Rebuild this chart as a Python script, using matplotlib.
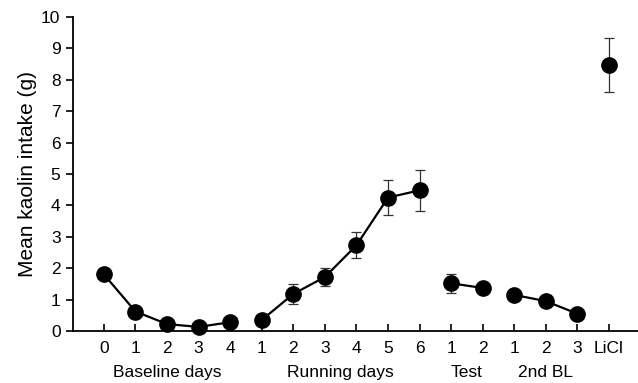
import matplotlib
matplotlib.use("Agg")
import matplotlib.pyplot as plt

plt.rcParams['font.family'] = ['Liberation Sans', 'DejaVu Sans']

groups = ["Baseline days", "Running days", "Test", "2nd BL", ""]
tick_labels_by_group = [["0", "1", "2", "3", "4"],
                        ["1", "2", "3", "4", "5", "6"],
                        ["1", "2"],
                        ["1", "2", "3"],
                        ["LiCl"]]
baseline_vals = [1.80, 0.62, 0.22, 0.13, 0.28]
baseline_err = [0.10, 0.08, 0.06, 0.05, 0.07]
running_vals = [0.35, 1.18, 1.72, 2.73, 4.25, 4.48]
running_err = [0.10, 0.32, 0.30, 0.42, 0.57, 0.66]
test_vals = [1.52, 1.37]
test_err = [0.30, 0.12]
bl2_vals = [1.15, 0.95, 0.55]
bl2_err = [0.08, 0.08, 0.06]
licl_vals = [8.47]
licl_err = [0.86]

series = [(baseline_vals, baseline_err), (running_vals, running_err),
          (test_vals, test_err), (bl2_vals, bl2_err), (licl_vals, licl_err)]

fig = plt.figure(figsize=(6.38, 3.83), dpi=100)
ax = fig.add_axes([73/638, 52/383, 565/638, 314/383])

pos = 0
all_labels = []
all_pos = []
group_centers = []
for (vals, errs), labs in zip(series, tick_labels_by_group):
    xs = list(range(pos, pos + len(vals)))
    ax.errorbar(xs, vals, yerr=errs, fmt='none', ecolor='#333333',
                elinewidth=0.9, capsize=3.3, capthick=0.9, zorder=2)
    ax.plot(xs, vals, color='black', lw=1.6, marker='o', markersize=11,
            markerfacecolor='black', markeredgecolor='black', zorder=3,
            clip_on=False)
    all_pos += xs
    all_labels += labs
    group_centers.append((xs[0] + xs[-1]) / 2)
    pos += len(vals)

ax.set_xlim(-0.98, 16.92)
ax.set_ylim(0, 10)
ax.set_yticks(range(0, 11))
ax.set_xticks(all_pos)
ax.set_xticklabels(all_labels)
ax.tick_params(axis='y', direction='out', length=5, width=1.2, labelsize=12.5, pad=4)
ax.tick_params(axis='x', direction='in', length=5, width=1.2, labelsize=12.5, pad=7)
for s in ['top', 'right']:
    ax.spines[s].set_visible(False)
for s in ['left', 'bottom']:
    ax.spines[s].set_linewidth(1.3)

for name, c in zip(groups, group_centers):
    if name:
        ax.text(c, -1.33, name, transform=ax.transData, ha='center', va='center',
                fontsize=12.5)

ax.set_ylabel("Mean kaolin intake (g)", fontsize=15, labelpad=3)

fig.savefig("out.png", dpi=100)
